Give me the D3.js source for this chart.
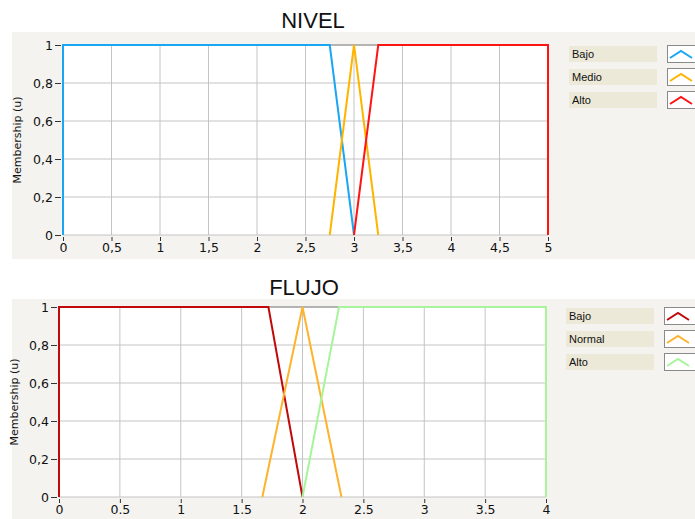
<!DOCTYPE html>
<html>
<head>
<meta charset="utf-8">
<script src="https://cdn.jsdelivr.net/npm/d3@7"></script>
<style>
  body { margin: 0; background: #fff; }
  svg { display: block; }
  text { font-family: "DejaVu Sans", sans-serif; }
</style>
</head>
<body>
<div id="chart"></div>
<script>
// membership functions
const nivelNames = ["Bajo", "Medio", "Alto"];
const nivelBajo = [[0, 0], [0, 1], [2.75, 1], [3, 0]];
const nivelMedio = [[2.75, 0], [3, 1], [3.25, 0]];
const nivelAlto = [[3, 0], [3.25, 1], [5, 1], [5, 0]];
const nivelXTicks = [0, 0.5, 1, 1.5, 2, 2.5, 3, 3.5, 4, 4.5, 5];

const flujoNames = ["Bajo", "Normal", "Alto"];
const flujoBajo = [[0, 0], [0, 1], [1.72, 1], [2, 0]];
const flujoNormal = [[1.67, 0], [2, 1], [2.32, 0]];
const flujoAlto = [[2, 0], [2.3, 1], [4, 1], [4, 0]];
const flujoXTicks = [0, 0.5, 1, 1.5, 2, 2.5, 3, 3.5, 4];

const yTicks = [0, 0.2, 0.4, 0.6, 0.8, 1];

const W = 695, H = 519;
const svg = d3.select("#chart")
    .append("svg")
    .attr("width", W)
    .attr("height", H);

const comma = d => String(d).replace(".", ",");
const dot = d => String(d);

function drawPanel(cfg) {
    const g = svg.append("g");

    // panel background
    g.append("rect")
        .attr("x", 12).attr("y", cfg.panelTop)
        .attr("width", W - 12).attr("height", cfg.panelBottom - cfg.panelTop)
        .attr("fill", "#f4f3ef");

    g.append("text")
        .attr("x", cfg.titleX).attr("y", cfg.titleY)
        .attr("text-anchor", "middle")
        .style("font-family", "'Liberation Sans', Arial, sans-serif")
        .style("font-size", "22px")
        .attr("fill", "#111")
        .text(cfg.title);

    const x = d3.scaleLinear().domain(cfg.xDomain).range([cfg.left, cfg.right]);
    const y = d3.scaleLinear().domain([0, 1]).range([cfg.bottom, cfg.top]);

    g.append("rect")
        .attr("x", cfg.left).attr("y", cfg.top)
        .attr("width", cfg.right - cfg.left).attr("height", cfg.bottom - cfg.top)
        .attr("fill", "#fff");

    // grid
    g.append("g").selectAll("line")
        .data(cfg.xTicks)
        .join("line")
        .attr("x1", d => x(d)).attr("x2", d => x(d))
        .attr("y1", cfg.top).attr("y2", cfg.bottom)
        .attr("stroke", "#c4c4c4");
    g.append("g").selectAll("line")
        .data(yTicks)
        .join("line")
        .attr("x1", cfg.left).attr("x2", cfg.right)
        .attr("y1", d => y(d)).attr("y2", d => y(d))
        .attr("stroke", "#c4c4c4");
    g.append("line")
        .attr("x1", cfg.left).attr("x2", cfg.right)
        .attr("y1", cfg.top).attr("y2", cfg.top)
        .attr("stroke", "#8a8a8a");

    // axes
    const ax = g.append("g")
        .attr("transform", `translate(0, ${cfg.bottom + 2})`)
        .call(d3.axisBottom(x).tickValues(cfg.xTicks).tickFormat(cfg.xFmt).tickSize(4).tickPadding(2));
    const ay = g.append("g")
        .attr("transform", `translate(${cfg.left - 2}, 0)`)
        .call(d3.axisLeft(y).tickValues(yTicks).tickFormat(comma).tickSize(6).tickPadding(2));
    [ax, ay].forEach(a => {
        a.select(".domain").remove();
        a.selectAll("line").attr("stroke", "#333");
        a.selectAll("text").style("font-size", "12.5px").attr("fill", "#111");
    });

    g.append("text")
        .attr("transform", `translate(${cfg.labelX}, ${(cfg.top + cfg.bottom) / 2}) rotate(-90)`)
        .attr("text-anchor", "middle")
        .style("font-size", "11px")
        .attr("fill", "#111")
        .text("Membership (u)");

    const line = d3.line().x(d => x(d[0])).y(d => y(d[1]));
    g.append("g").selectAll("path")
        .data(cfg.series)
        .join("path")
        .attr("d", d => line(d))
        .attr("fill", "none")
        .attr("stroke", (d, i) => cfg.colors[i])
        .attr("stroke-width", 2);

    // legend
    const leg = g.append("g").selectAll("g")
        .data(cfg.names)
        .join("g")
        .attr("transform", (d, i) => `translate(${cfg.legX}, ${cfg.legY + i * 23})`);
    leg.append("rect")
        .attr("width", 88).attr("height", 16)
        .attr("fill", "#ece9d8");
    leg.append("text")
        .attr("x", 3).attr("y", 12)
        .style("font-family", "'Liberation Sans', Arial, sans-serif")
        .style("font-size", "11px")
        .attr("fill", "#111")
        .text(d => d);
    leg.append("rect")
        .attr("x", 98.5).attr("y", -0.5)
        .attr("width", 40).attr("height", 17)
        .attr("fill", "#fff")
        .attr("stroke", "#8a8a8a");
    leg.append("polyline")
        .attr("points", "101,12 112,5 123,12")
        .attr("fill", "none")
        .attr("stroke", (d, i) => cfg.colors[i])
        .attr("stroke-width", 2);
}

drawPanel({
    title: "NIVEL", titleX: 313, titleY: 28,
    panelTop: 32, panelBottom: 259,
    left: 63, right: 548, top: 45, bottom: 235,
    xDomain: [0, 5], xTicks: nivelXTicks, xFmt: comma,
    labelX: 21,
    series: [nivelBajo, nivelMedio, nivelAlto],
    names: nivelNames,
    colors: ["#1aa6f2", "#ffb400", "#ff1414"],
    legX: 569, legY: 46
});

drawPanel({
    title: "FLUJO", titleX: 304, titleY: 295,
    panelTop: 299, panelBottom: 519,
    left: 59, right: 546, top: 307, bottom: 497,
    xDomain: [0, 4], xTicks: flujoXTicks, xFmt: dot,
    labelX: 18,
    series: [flujoBajo, flujoNormal, flujoAlto],
    names: flujoNames,
    colors: ["#c00a0a", "#ffb22e", "#a6f59a"],
    legX: 566, legY: 308
});
</script>
</body>
</html>
